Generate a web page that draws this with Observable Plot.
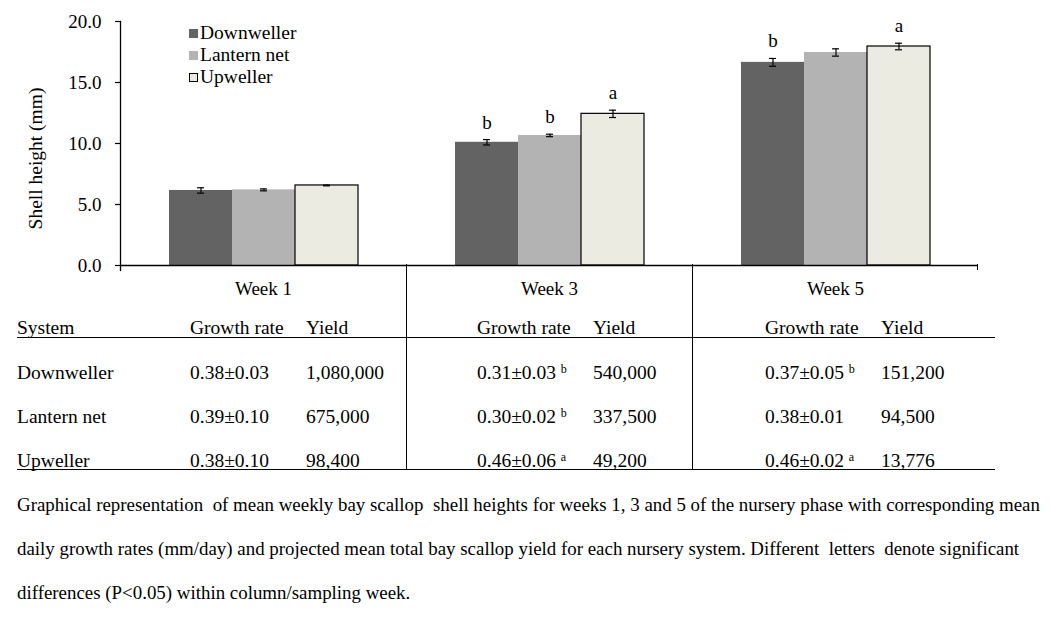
<!DOCTYPE html>
<html>
<head>
<meta charset="utf-8">
<script src="https://cdn.jsdelivr.net/npm/d3@7"></script>
<script src="https://cdn.jsdelivr.net/npm/@observablehq/plot@0.6"></script>
<style>
  html, body { margin: 0; padding: 0; background: #fff; }
  #wrap { position: relative; width: 1051px; height: 617px; font-family: "Liberation Serif", "Times New Roman", serif; color: #000; overflow: hidden; }
  #wrap svg { position: absolute; left: 0; top: 0; }
  .abs { position: absolute; white-space: pre; line-height: 20px; }
  .tbl { font-size: 19.5px; }
  .cap { font-size: 18.9px; }
  .hline { position: absolute; height: 0; border-top: 1px solid #000; }
  .vline { position: absolute; width: 0; border-left: 1px solid #000; }
  .leg { position: absolute; font-size: 19.5px; line-height: 20px; white-space: pre; }
  .sw { display: inline-block; width: 9px; height: 9px; margin-right: 2px; vertical-align: 1px; box-sizing: border-box; }
  sup { font-size: 12px; vertical-align: 6px; line-height: 0; }
</style>
</head>
<body>
<div id="wrap"></div>
<script>
// ---------- data ----------
const weeks = ["Week 1", "Week 3", "Week 5"];
const systems = ["Downweller", "Lantern net", "Upweller"];
const systemColors = ["#636363", "#b3b3b3", "#ecebe1"];

// mean shell height (mm) per week
const downwellerHeight = [6.15, 10.10, 16.65];
const lanternHeight = [6.20, 10.66, 17.46];
const upwellerHeight = [6.56, 12.43, 17.95];
// error bars (± mm)
const downwellerErr = [0.22, 0.22, 0.32];
const lanternErr = [0.08, 0.10, 0.30];
const upwellerErr = [0.03, 0.30, 0.27];
// significance letters
const downwellerLetters = ["", "b", "b"];
const lanternLetters = ["", "b", ""];
const upwellerLetters = ["", "a", "a"];

const yTicks = [0, 5, 10, 15, 20];

// table values
const tableSystems = ["Downweller", "Lantern net", "Upweller"];
const growthWeek1 = ["0.38±0.03", "0.39±0.10", "0.38±0.10"];
const growthWeek3 = ["0.31±0.03", "0.30±0.02", "0.46±0.06"];
const growthWeek5 = ["0.37±0.05", "0.38±0.01", "0.46±0.02"];
const growthSupWeek1 = ["", "", ""];
const growthSupWeek3 = ["b", "b", "a"];
const growthSupWeek5 = ["b", "", "a"];
const yieldWeek1 = ["1,080,000", "675,000", "98,400"];
const yieldWeek3 = ["540,000", "337,500", "49,200"];
const yieldWeek5 = ["151,200", "94,500", "13,776"];

const captionLines = [
  "Graphical representation  of mean weekly bay scallop  shell heights for weeks 1, 3 and 5 of the nursery phase with corresponding mean",
  "daily growth rates (mm/day) and projected mean total bay scallop yield for each nursery system. Different  letters  denote significant",
  "differences (P<0.05) within column/sampling week."
];

// ---------- build rows ----------
const heights = [downwellerHeight, lanternHeight, upwellerHeight];
const errs = [downwellerErr, lanternErr, upwellerErr];
const letters = [downwellerLetters, lanternLetters, upwellerLetters];
const data = [];
weeks.forEach((w, i) => systems.forEach((s, j) => {
  data.push({week: w, system: s, mean: heights[j][i], err: errs[j][i], letter: letters[j][i]});
}));

const chart = Plot.plot({
  width: 1051,
  height: 305,
  marginTop: 21,
  marginLeft: 119,
  marginRight: 73,
  marginBottom: 40,
  style: {fontFamily: "'Liberation Serif', 'Times New Roman', serif", fontSize: "19px", color: "#000", background: "transparent", overflow: "visible"},
  fx: {domain: weeks, padding: 0, label: null},
  x: {domain: systems, paddingInner: 0, paddingOuter: 0.737, axis: null},
  y: {domain: [0, 20]},
  color: {domain: systems, range: systemColors},
  marks: [
    Plot.barY(data, {fx: "week", x: "system", y: "mean", fill: "system"}),
    Plot.barY(data.filter(d => d.system === "Upweller"), {fx: "week", x: "system", y: "mean", fill: "none", stroke: "#000", strokeWidth: 1.2}),
    Plot.ruleY([0], {stroke: "#000", strokeWidth: 1.3}),
    Plot.frame({anchor: "left", facetAnchor: "left", stroke: "#000", strokeWidth: 1.3, insetBottom: -5}),
    Plot.ruleX(data, {fx: "week", x: "system", y1: d => d.mean - d.err, y2: d => d.mean + d.err, stroke: "#000", strokeWidth: 1.2}),
    Plot.tickY(data, {fx: "week", x: "system", y: d => d.mean - d.err, insetLeft: 28, insetRight: 28, stroke: "#000", strokeWidth: 1.2}),
    Plot.tickY(data, {fx: "week", x: "system", y: d => d.mean + d.err, insetLeft: 28, insetRight: 28, stroke: "#000", strokeWidth: 1.2}),
    Plot.text(data.filter(d => d.letter), {fx: "week", x: "system", y: d => d.mean + d.err, text: "letter", lineAnchor: "bottom", dy: -11, fontSize: 19, fill: "#000"}),
    Plot.axisY({ticks: yTicks, tickFormat: d3.format(".1f"), tickSize: 5, tickPadding: 14, fontSize: 19, label: "Shell height (mm)", labelAnchor: "center", labelOffset: 92, labelArrow: "none", stroke: "#000", strokeWidth: 1.2}),
    Plot.axisFx({anchor: "bottom", tickSize: 0, tickPadding: 16, fontSize: 19, label: null})
  ]
});

const wrap = document.getElementById("wrap");
wrap.appendChild(chart);
chart.querySelectorAll("text").forEach(t => {
  if (t.textContent === "Shell height (mm)") { t.setAttribute("font-size", 19.5); t.setAttribute("dx", -15); }
});

// ---------- legend (HTML) ----------
systems.forEach((s, j) => {
  const row = document.createElement("div");
  row.className = "leg";
  row.style.left = "189px";
  row.style.top = (23 + j * 22) + "px";
  const sw = document.createElement("span");
  sw.className = "sw";
  sw.style.background = systemColors[j];
  if (j === 2) sw.style.border = "1px solid #000";
  row.appendChild(sw);
  row.appendChild(document.createTextNode(s));
  wrap.appendChild(row);
});

// ---------- table (HTML) ----------
function addText(txt, left, centerY, cls, sup) {
  const d = document.createElement("div");
  d.className = "abs " + cls;
  d.style.left = left + "px";
  d.style.top = (centerY - 10) + "px";
  d.textContent = txt;
  if (sup) {
    d.appendChild(document.createTextNode(" "));
    const ss = document.createElement("sup");
    ss.textContent = sup;
    d.appendChild(ss);
  }
  wrap.appendChild(d);
}
function hline(x1, x2, y) {
  const d = document.createElement("div");
  d.className = "hline";
  d.style.left = x1 + "px"; d.style.width = (x2 - x1) + "px"; d.style.top = y + "px";
  wrap.appendChild(d);
}
function vline(x, y1, y2) {
  const d = document.createElement("div");
  d.className = "vline";
  d.style.left = x + "px"; d.style.top = y1 + "px"; d.style.height = (y2 - y1) + "px";
  wrap.appendChild(d);
}

// separators at week boundaries, from the fx scale
let fxScale = null;
try { fxScale = chart.scale("fx"); } catch (e) {}
let sepX = [405.5, 692];
let rightX = 978;
if (fxScale && fxScale.apply) {
  sepX = [fxScale.apply("Week 3"), fxScale.apply("Week 5")].map(v => Math.round(v) - 0.5);
  rightX = Math.round(fxScale.apply("Week 5") + fxScale.bandwidth) - 1;
}
sepX.forEach(x => vline(x, 264, 470));
vline(rightX, 264, 270);

const grCols = [190, 477, 765];
const yCols = [306, 593, 881];
addText("System", 17, 328, "tbl");
grCols.forEach((x, k) => { addText("Growth rate", x, 328, "tbl"); addText("Yield", yCols[k], 328, "tbl"); });
hline(17, 995, 337);
const growths = [growthWeek1, growthWeek3, growthWeek5];
const sups = [growthSupWeek1, growthSupWeek3, growthSupWeek5];
const yields = [yieldWeek1, yieldWeek3, yieldWeek5];
const rowY = [373, 417, 461];
tableSystems.forEach((s, r) => {
  addText(s, 17, rowY[r], "tbl");
  for (let k = 0; k < 3; k++) {
    addText(growths[k][r], grCols[k], rowY[r], "tbl", sups[k][r]);
    addText(yields[k][r], yCols[k], rowY[r], "tbl");
  }
});
hline(17, 995, 469);

// ---------- caption ----------
const capY = [505, 549, 593];
captionLines.forEach((t, i) => addText(t, 17, capY[i], "cap"));
</script>
</body>
</html>
